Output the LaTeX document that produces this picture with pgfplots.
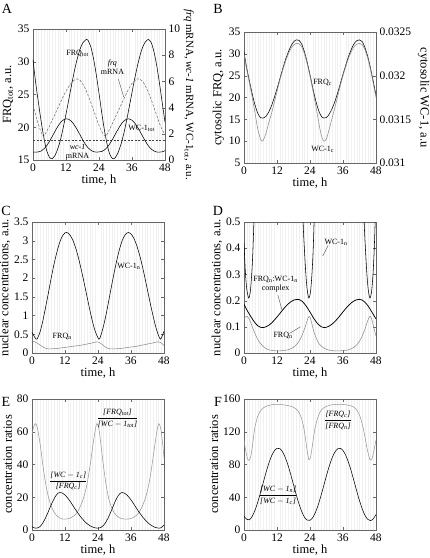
\documentclass[border=0pt]{standalone}
\usepackage{fontspec}
\setmainfont{Liberation Serif}
\usepackage{pgfplots}
\pgfplotsset{compat=1.18}
\pgfplotsset{
 panel/.style={
   scale only axis, width=132pt, height=131pt,
   xmin=0, xmax=48, xtick={0,12,24,36,48},
   minor x tick num=11, xminorgrids=true,
   minor grid style={black!6, line width=0.3pt},
   minor tick length=0pt, major tick length=3pt,
   tick align=inside,
   axis line style={black!60, line width=0.5pt}, tick style={black!60},
   every axis plot/.append style={line width=0.55pt, smooth, no marks},
   ticklabel style={font=\fontsize{11.5}{12}\selectfont},
   label style={font=\fontsize{12.5}{13}\selectfont},
   /pgf/number format/assume math mode=true,
   xlabel={time, h},
   xlabel style={yshift=3pt},
 },
}
\tikzset{ann/.style={font=\fontsize{8}{9}\selectfont, inner sep=0.5pt, align=center}}
\begin{document}
\begin{tikzpicture}
\path[use as bounding box] (0,0) rectangle (430pt,-558pt);
\tikzset{letter/.style={font=\fontsize{14}{15}\selectfont, inner sep=0pt}}
\node[letter] at (7pt,-9pt) {A};
\node[letter] at (218pt,-9pt) {B};
\node[letter] at (6pt,-211pt) {C};
\node[letter] at (218pt,-211pt) {D};
\node[letter] at (6pt,-402pt) {E};
\node[letter] at (218pt,-402pt) {F};

% ---------------- A ----------------
\begin{axis}[panel, at={(33pt,-29pt)}, anchor=north west,
  ymin=15, ymax=35, ytick={15,20,...,35}, ytick pos=left,
  ylabel={FRQ\textsubscript{tot}, a.u.}, ylabel shift=-2pt]
\addplot[black] coordinates {(0,30.3)(1,26.7)(2,23.7)(3,20.8)(4,18.3)(5,16.4)(6,15.4)(6.6,15.2)(7,15.2)(8,15.7)(9,16.7)(10,18.1)(11,19.95)(12,22.0)(13,24.2)(14,26.4)(15,28.5)(16,30.3)(17,31.8)(18,32.8)(19,33.3)(19.5,33.4)(20,33.3)(21,32.3)(22,30.5)(23,28.05)(24,25.2)(25,22.2)(26,19.5)(27,17.3)(28,15.8)(29,15.2)(30,15.4)(31,16.2)(32,17.4)(33,19.0)(34,20.95)(35,23.1)(36,25.3)(37,27.45)(38,29.4)(39,31.1)(40,32.35)(41,33.1)(42,33.4)(43,32.9)(44,31.5)(45,29.4)(46,26.7)(47,23.7)(48,20.8)};
\node[ann] at (axis cs:16.2,31.3) {FRQ\textsubscript{tot}};
\node[ann] at (axis cs:28.9,29.2) {\textit{frq}\\mRNA};
\draw[black!70, line width=0.4pt] (axis cs:31.0,27.4) -- (axis cs:33.0,24.6);
\node[ann] at (axis cs:39.5,19.9) {WC-1\textsubscript{tot}};
\node[ann] at (axis cs:16.2,16.3) {\textit{wc-1}\\mRNA};
\end{axis}
\begin{axis}[panel, at={(33pt,-29pt)}, anchor=north west,
  axis y line*=right, axis x line=none, xminorgrids=false, xlabel={},
  ymin=0, ymax=10, ytick={0,2,...,10},
  ylabel={\textit{frq} mRNA, \textit{wc-1} mRNA, WC-1\textsubscript{tot}, a.u.},
  ylabel style={rotate=180, font=\fontsize{11}{12}\selectfont}, ylabel shift=-3pt]
\addplot[black!55, dash pattern=on 2.5pt off 1.5pt] coordinates {(0,4.2)(1,3.4)(2,2.7)(3,2.1)(3.8,1.8)(5,2.2)(6,2.6)(7,3.05)(8,3.5)(9,3.95)(10,4.4)(11,4.85)(12,5.25)(13,5.6)(14,5.9)(15,6.1)(16,6.2)(17,6.1)(18,5.85)(19,5.45)(20,4.95)(21,4.4)(22,3.8)(23,3.2)(24,2.65)(25,2.15)(26.3,1.8)(27,2.0)(28,2.4)(29,2.85)(30,3.3)(31,3.75)(32,4.2)(33,4.65)(34,5.1)(35,5.5)(36,5.85)(37,6.05)(38,6.2)(39,6.15)(40,5.95)(41,5.6)(42,5.15)(43,4.6)(44,4.0)(45,3.4)(46,2.8)(47,2.3)(48,1.95)};
\addplot[black!75, dash pattern=on 2pt off 1.5pt, line width=0.5pt, sharp plot] coordinates {(0,1.53)(48,1.53)};
\addplot[black] coordinates {(0,0.61)(1,0.6)(2,0.62)(3,0.69)(4,0.86)(5,1.10)(6,1.43)(7,1.80)(8,2.19)(9,2.55)(10,2.85)(11,3.06)(12,3.15)(13,3.11)(14,2.95)(15,2.68)(16,2.34)(17,1.96)(18,1.57)(19,1.22)(20,0.94)(21,0.75)(22,0.64)(23,0.6)(24,0.62)(25,0.65)(26,0.77)(27,0.97)(28,1.26)(29,1.61)(30,2.0)(31,2.37)(32,2.71)(33,2.97)(34,3.12)(35,3.14)(36,3.04)(37,2.82)(38,2.52)(39,2.15)(40,1.76)(41,1.39)(42,1.07)(43,0.83)(44,0.69)(45,0.61)(46,0.6)(47,0.63)(48,0.71)};
\end{axis}

% ---------------- B ----------------
\begin{axis}[panel, at={(244pt,-32pt)}, anchor=north west,
  ymin=5, ymax=35, ytick={5,10,...,35}, ytick pos=left,
  ylabel={cytosolic FRQ, a.u.}, ylabel shift=-2pt]
\addplot[black] coordinates {(0,30.4)(1,26.7)(2,23.7)(3,20.8)(4,18.3)(5,16.4)(6,15.4)(6.6,15.3)(7,15.3)(8,15.7)(9,16.7)(10,18.1)(11,19.95)(12,22.0)(13,24.2)(14,26.4)(15,28.5)(16,30.2)(17,31.7)(18,32.7)(19,33.2)(20,33.1)(21,32.2)(22,30.4)(23,28.0)(24,25.2)(25,22.2)(26,19.5)(27,17.3)(28,15.8)(29,15.3)(30,15.4)(31,16.2)(32,17.4)(33,19.0)(34,20.95)(35,23.1)(36,25.3)(37,27.4)(38,29.4)(39,31.0)(40,32.3)(41,33.0)(42,33.2)(43,32.8)(44,31.4)(45,29.4)(46,26.7)(47,23.7)(48,20.5)};
\node[ann] at (axis cs:28.6,23.4) {FRQ\textsubscript{c}};
\node[ann] at (axis cs:28.6,8.2) {WC-1\textsubscript{c}};
\end{axis}
\begin{axis}[panel, at={(244pt,-32pt)}, anchor=north west,
  axis y line*=right, axis x line=none, xminorgrids=false, xlabel={},
  ymin=0.031, ymax=0.0325, scaled y ticks=false,
  ytick={0.031,0.0315,0.032,0.0325}, yticklabels={0.031,0.0315,0.032,0.0325},
  ylabel={cytosolic WC-1, a.u}, ylabel style={rotate=180}]
\addplot[black!45] coordinates {(0,0.03225)(1,0.03207)(2,0.031915)(3,0.03175)(4,0.031575)(5,0.03139)(6,0.031275)(6.6,0.03125)(7,0.03126)(8,0.03134)(9,0.03146)(10,0.031565)(11,0.03169)(12,0.03182)(13,0.031945)(14,0.032055)(15,0.032155)(16,0.03224)(17,0.03231)(18,0.03235)(19,0.03237)(20,0.032365)(21,0.03233)(22,0.03225)(23,0.032135)(24,0.031995)(25,0.03184)(26,0.031675)(27,0.0315)(28,0.03133)(29,0.03125)(30,0.03128)(31,0.03139)(32,0.03151)(33,0.03163)(34,0.031755)(35,0.031885)(36,0.032)(37,0.032105)(38,0.0322)(39,0.032275)(40,0.03233)(41,0.03236)(42,0.03237)(43,0.032355)(44,0.032295)(45,0.0322)(46,0.03207)(47,0.031915)(48,0.03175)};
\end{axis}

% ---------------- C ----------------
\begin{axis}[panel, at={(32pt,-222pt)}, anchor=north west,
  ymin=0, ymax=3.5, ytick={0,0.5,...,3.5},
  ylabel={nuclear concentrations, a.u.}, ylabel shift=-3pt]
\addplot[black] coordinates {(0,0.55)(1,0.42)(1.8,0.37)(3,0.58)(4,0.88)(5,1.24)(6,1.62)(7,2.01)(8,2.37)(9,2.68)(10,2.94)(11,3.12)(12,3.21)(12.5,3.22)(13,3.21)(14,3.13)(15,2.99)(16,2.78)(17,2.51)(18,2.20)(19,1.86)(20,1.51)(21,1.16)(22,0.84)(23,0.58)(24.3,0.37)(25,0.46)(26,0.72)(27,1.05)(28,1.43)(29,1.82)(30,2.19)(31,2.53)(32,2.82)(33,3.04)(34,3.17)(35,3.22)(36,3.18)(37,3.07)(38,2.89)(39,2.65)(40,2.36)(41,2.03)(42,1.68)(43,1.33)(44,1.00)(45,0.70)(46,0.47)(46.8,0.37)(48,0.58)};
\addplot[black!45] coordinates {(0,0.32)(1,0.30)(2,0.26)(3,0.21)(4,0.16)(5,0.125)(6,0.11)(8,0.115)(10,0.13)(12,0.15)(14,0.17)(16,0.19)(18,0.21)(20,0.24)(22,0.27)(23.5,0.30)(24.5,0.28)(25.5,0.23)(26.5,0.17)(27.5,0.13)(28.5,0.11)(30,0.11)(32,0.12)(34,0.14)(36,0.16)(38,0.18)(40,0.21)(42,0.24)(44,0.27)(46,0.30)(47,0.27)(48,0.20)};
\node[ann] at (axis cs:35.2,2.32) {WC-1\textsubscript{n}};
\node[ann] at (axis cs:11,0.43) {FRQ\textsubscript{n}};
\end{axis}

% ---------------- D ----------------
\begin{axis}[panel, at={(244pt,-222pt)}, anchor=north west,
  ymin=0, ymax=0.5, ytick={0,0.1,...,0.5},
  ylabel={nuclear concentrations, a.u.}, ylabel shift=-3pt]
\addplot[black] coordinates {(0,0.42)(0.5,0.31)(1,0.245)(1.7,0.21)(2.3,0.235)(2.8,0.30)(3.2,0.38)(3.6,0.5)(4.2,0.7)(5,1.0)(6,1.5)(8,2.4)(12,3.2)(16,2.7)(18,2.2)(19,1.8)(20,1.2)(20.8,0.78)(21.5,0.5)(22,0.39)(22.5,0.30)(23,0.24)(23.6,0.21)(24.2,0.235)(24.7,0.30)(25.1,0.38)(25.5,0.5)(26.1,0.7)(27,1.0)(28,1.5)(30,2.4)(34,3.2)(38,2.7)(40,2.2)(41,1.8)(42,1.2)(42.9,0.78)(43.7,0.5)(44.2,0.39)(44.7,0.30)(45.2,0.24)(45.8,0.21)(46.4,0.235)(46.9,0.30)(47.3,0.38)(47.7,0.5)(48,0.62)};
\addplot[black, line width=0.75pt] coordinates {(0,0.1866)(1,0.1652)(2,0.1474)(3,0.1302)(4,0.1154)(5,0.1041)(6,0.0982)(7,0.097)(8,0.1000)(9,0.1059)(10,0.1142)(11,0.1252)(12,0.1373)(13,0.1504)(14,0.1635)(15,0.1759)(16,0.1866)(17,0.1955)(18,0.2014)(19,0.2044)(20,0.2044)(21,0.1985)(22,0.1878)(23,0.1732)(24,0.1563)(25,0.1385)(26,0.1225)(27,0.1095)(28,0.1006)(29,0.097)(30,0.0982)(31,0.1029)(32,0.1101)(33,0.1196)(34,0.1311)(35,0.1439)(36,0.1569)(37,0.1697)(38,0.1813)(39,0.1913)(40,0.1988)(41,0.2032)(42,0.205)(43,0.2020)(44,0.1937)(45,0.1813)(46,0.1652)(47,0.1474)(48,0.1302)};
\addplot[black!45] coordinates {(0,0.128)(0.5,0.137)(1.1,0.140)(2,0.128)(3,0.100)(4,0.074)(5,0.052)(6,0.036)(7,0.025)(8,0.017)(9,0.012)(10,0.010)(12,0.008)(14,0.009)(16,0.012)(17,0.016)(18,0.022)(19,0.031)(20,0.045)(21,0.065)(22,0.092)(23,0.124)(23.6,0.140)(24.1,0.134)(24.6,0.115)(25.2,0.089)(26,0.064)(27,0.040)(28,0.027)(29,0.019)(30,0.014)(31,0.011)(32,0.009)(34,0.008)(36,0.009)(38,0.012)(39,0.016)(40,0.022)(41,0.031)(42,0.045)(43,0.065)(44,0.092)(45,0.124)(45.8,0.140)(46.3,0.134)(46.8,0.115)(47.4,0.089)(48,0.065)};
\node[ann] at (axis cs:33.5,0.424) {WC-1\textsubscript{n}};
\draw[black!70, line width=0.4pt] (axis cs:30.6,0.41) -- (axis cs:28.6,0.37);
\node[ann] at (axis cs:11.5,0.262) {FRQ\textsubscript{n}:WC-1\textsubscript{n}\\complex};
\draw[black!70, line width=0.4pt] (axis cs:12.3,0.222) -- (axis cs:13.8,0.165);
\node[ann] at (axis cs:14.2,0.065) {FRQ\textsubscript{n}};
\draw[black!70, line width=0.4pt] (axis cs:16.6,0.075) -- (axis cs:20.5,0.1);
\end{axis}

% ---------------- E ----------------
\begin{axis}[panel, at={(32pt,-399pt)}, anchor=north west,
  ymin=0, ymax=80, ytick={0,20,...,80},
  ylabel={concentration ratios}, ylabel shift=-2pt]
\addplot[black!40] coordinates {(0,58)(0.6,63)(1.3,65)(2,62)(3,52)(4,39)(5,28)(6,20)(7,14.5)(8,11)(9,8.8)(10,7.4)(11.5,6.6)(13,6.8)(14.5,7.8)(16,9.8)(17,12.5)(18,16)(19,21)(20,28)(21,38)(22,50)(23,61)(23.6,65)(24.3,62)(25,53)(26,39)(27,27)(28,18.5)(29,13.5)(30,10.3)(31,8.4)(32,7.3)(34,6.6)(35.5,6.8)(37,7.8)(38.5,9.8)(39.5,12.5)(40.5,16)(41.5,21)(42.5,28)(43.5,38)(44.5,50)(45.5,61)(46.1,65)(46.8,62)(47.5,53)(48,44)};
\addplot[black] coordinates {(0,2.0)(0.8,1.3)(1.6,1.1)(2.5,1.6)(3.5,3.2)(4.5,6.0)(5.5,9.5)(6.5,13.5)(7.5,17.3)(8.5,20.5)(9.5,22.5)(10.2,22.9)(11,22.6)(12,21.4)(13,19.5)(14,17.2)(15,14.6)(16,12.0)(17,9.6)(18,7.4)(19,5.5)(20,3.9)(21,2.7)(22,1.8)(23,1.3)(24,1.1)(25,1.5)(26,2.8)(27,5.2)(28,8.5)(29,12.4)(30,16.5)(31,20.0)(32,22.3)(32.7,22.9)(33.5,22.6)(34.5,21.4)(35.5,19.5)(36.5,17.2)(37.5,14.6)(38.5,12.0)(39.5,9.6)(40.5,7.4)(41.5,5.5)(42.5,3.9)(43.5,2.7)(44.5,1.8)(45.5,1.3)(46.3,1.1)(47,1.5)(48,3.0)};
\node[ann, font=\fontsize{8}{9}\selectfont] at (axis cs:31.1,68.4) {$\displaystyle\frac{\textit{[FRQ\textsubscript{tot}]}}{\textit{[WC}-\textit{1\textsubscript{tot}]}}$};
\node[ann, font=\fontsize{8}{9}\selectfont] at (axis cs:13.2,30) {$\displaystyle\frac{\textit{[WC}-\textit{1\textsubscript{c}]}}{\textit{[FRQ\textsubscript{c}]}}$};
\end{axis}

% ---------------- F ----------------
\begin{axis}[panel, at={(244pt,-399pt)}, anchor=north west,
  ymin=0, ymax=160, ytick={0,40,...,160},
  ylabel={concentration ratios}, ylabel shift=-2pt]
\addplot[black!40] coordinates {(0,110)(0.6,97)(1.2,88)(1.8,85)(2.4,89)(3,101)(3.9,124)(5,139)(6.3,147)(8,151)(10,153)(12,153.5)(14,153)(16,152)(18,150)(19.5,146)(20.5,140)(21.5,129)(22.3,113)(23,96)(23.6,86)(24.2,89)(24.9,104)(25.8,124)(27,139)(28.2,147)(30,151)(32,153)(34.5,153.5)(37,153)(39,151.5)(40.5,148.5)(41.8,142)(42.8,132)(43.8,117)(44.8,99)(45.8,86)(46.5,87)(47.2,96)(48,110)};
\addplot[black] coordinates {(0,17)(1,13)(2,12.5)(3,16.8)(4,24.1)(5,34.0)(6,45.6)(7,57.9)(8,70.1)(9,81.2)(10,90.3)(11,96.6)(12,99.7)(13,99.4)(14,95.6)(15,88.6)(16,79.2)(17,67.7)(18,55.4)(19,43.1)(20,31.9)(21,22.5)(22,15.6)(23,12.0)(24,11.9)(25,15.2)(26,21.7)(27,30.8)(28,42.0)(29,54.2)(30,66.5)(31,78.1)(32,87.7)(33,94.9)(34,99.1)(35,99.8)(36,97.1)(37,91.2)(38,82.5)(39,71.9)(40,59.9)(41,47.5)(42,35.8)(43,25.7)(44,17.9)(45,13.0)(46,11.5)(47,13.6)(48,18.9)};
\node[ann, font=\fontsize{8}{9}\selectfont] at (axis cs:34.2,134) {$\displaystyle\frac{\textit{[FRQ\textsubscript{c}]}}{\textit{[FRQ\textsubscript{n}]}}$};
\node[ann, font=\fontsize{8}{9}\selectfont] at (axis cs:12.4,42.5) {$\displaystyle\frac{\textit{[WC}-\textit{1\textsubscript{n}]}}{\textit{[WC}-\textit{1\textsubscript{c}]}}$};
\end{axis}
\end{tikzpicture}
\end{document}
